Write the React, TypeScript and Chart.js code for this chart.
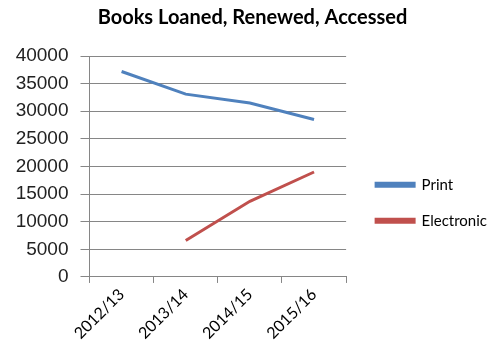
import React, { useEffect, useRef } from "react";
import { Chart, registerables } from "chart.js";

Chart.register(...registerables);

const categories = ["2012/13", "2013/14", "2014/15", "2015/16"];
const printValues = [37200, 33100, 31500, 28500];
const electronicValues = [null, 6600, 13700, 19000];
const yTicks = [0, 5000, 10000, 15000, 20000, 25000, 30000, 35000, 40000];

export default function App() {
  const ref = useRef<HTMLCanvasElement>(null);
  useEffect(() => {
    document.body.style.margin = "0";
    const chart = new Chart(ref.current!, {
      type: "line",
      data: {
        labels: categories,
        datasets: [
          {
            label: "Print",
            data: printValues,
            borderColor: "#4F81BD",
            backgroundColor: "#4F81BD",
            borderWidth: 3,
            pointRadius: 0,
            tension: 0,
          },
          {
            label: "Electronic",
            data: electronicValues,
            borderColor: "#C0504D",
            backgroundColor: "#C0504D",
            borderWidth: 3,
            pointRadius: 0,
            tension: 0,
          },
        ],
      },
      options: {
        animation: false,
        responsive: false,
        layout: { padding: { left: 8, right: 0, top: 0, bottom: 5 } },
        plugins: {
          title: {
            display: true,
            text: "Books Loaned, Renewed, Accessed",
            font: { family: "Lato", size: 20, weight: "bold" },
            color: "#000",
            padding: { top: 6, bottom: 26 },
          },
          legend: {
            position: "right",
            maxWidth: 200,
            title: { display: true, text: "", padding: 23 },
            labels: {
              boxWidth: 38,
              boxHeight: 3,
              padding: 21,
              font: { family: "Lato", size: 15 },
              color: "#000",
            },
          },
          tooltip: { enabled: false },
        },
        scales: {
          x: {
            offset: true,
            afterFit: (s: any) => {
              s.paddingLeft = 0;
              s.paddingRight = 0;
            },
            grid: {
              offset: true,
              drawOnChartArea: false,
              drawTicks: true,
              tickLength: 6,
              color: "#868686",
            },
            border: { color: "#868686" },
            ticks: {
              maxRotation: 45,
              minRotation: 45,
              font: { family: "Lato", size: 16 },
              color: "#000",
              padding: 2,
            },
          },
          y: {
            min: 0,
            max: 40000,
            afterBuildTicks: (scale: any) => {
              scale.ticks = yTicks.map((v) => ({ value: v }));
            },
            grid: { color: "#868686", tickLength: 9 },
            border: { color: "#868686" },
            ticks: {
              font: { family: "Liberation Sans", size: 19 },
              color: "#222",
              padding: 12,
              callback: (v: any) => String(v),
            },
          },
          gap: {
            type: "linear",
            position: "right",
            display: true,
            grid: { display: false },
            border: { display: false },
            ticks: { display: false },
            afterFit: (s: any) => {
              s.width = 9;
            },
          },
        },
      },
    });
    return () => chart.destroy();
  }, []);
  return <canvas ref={ref} width={497} height={350} />;
}
